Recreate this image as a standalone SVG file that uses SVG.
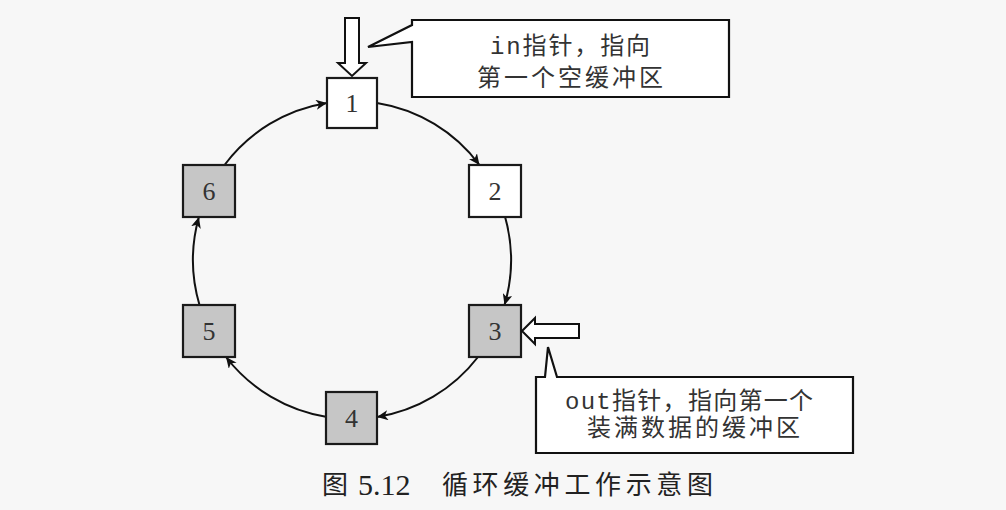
<svg xmlns="http://www.w3.org/2000/svg" width="1006" height="510" viewBox="0 0 1006 510">
<defs>
<style>
.nd{stroke:#1a1a1a;stroke-width:2.2}
.w{fill:#ffffff}
.g{fill:#c6c6c6}
.num{font-family:"Liberation Serif","DejaVu Serif",serif;font-size:26px;fill:#333;text-anchor:middle}
.arc{fill:none;stroke:#111;stroke-width:2}
.co{fill:#ffffff;stroke:#111;stroke-width:2.2}
.ptr{fill:#ffffff;stroke:#111;stroke-width:2}
.lbl{font-family:"Liberation Mono","Noto Sans CJK SC",monospace;font-size:24px;fill:#333}
.cap{font-family:"Noto Sans CJK SC",sans-serif;font-size:26px;fill:#222}
.capn{font-family:"Liberation Serif",serif;font-size:30px;fill:#222}
</style>
<marker id="ah" markerUnits="userSpaceOnUse" markerWidth="12" markerHeight="10" refX="11" refY="5" orient="auto">
<path d="M0,0 L11,5 L0,10 L3,5 Z" fill="#111"/>
</marker>
</defs>
<rect x="0" y="0" width="1006" height="510" fill="#f7f7f7"/>

<g id="connectors">
<path class="arc" marker-end="url(#ah)" d="M377 103 A159 159 0 0 1 479.5 165"/>
<path class="arc" marker-end="url(#ah)" d="M505.1 217 A159 159 0 0 1 504.5 305"/>
<path class="arc" marker-end="url(#ah)" d="M478 357 A159 159 0 0 1 377 417"/>
<path class="arc" marker-end="url(#ah)" d="M327 417 A159 159 0 0 1 226 357"/>
<path class="arc" marker-end="url(#ah)" d="M199.5 305 A159 159 0 0 1 198.9 217"/>
<path class="arc" marker-end="url(#ah)" d="M224.5 165 A159 159 0 0 1 327 103"/>
</g>

<g id="node1"><rect class="nd w" x="327" y="78" width="50" height="50"/><text class="num" x="352" y="112">1</text></g>
<g id="node2"><rect class="nd w" x="469" y="165" width="52" height="52"/><text class="num" x="495" y="200">2</text></g>
<g id="node3"><rect class="nd g" x="469" y="305" width="52" height="52"/><text class="num" x="495" y="340">3</text></g>
<g id="node4"><rect class="nd g" x="326" y="392" width="51" height="52"/><text class="num" x="351.5" y="427">4</text></g>
<g id="node5"><rect class="nd g" x="183" y="305" width="52" height="52"/><text class="num" x="209" y="340">5</text></g>
<g id="node6"><rect class="nd g" x="183" y="165" width="52" height="52"/><text class="num" x="209" y="200">6</text></g>

<g id="in-pointer">
<polygon class="ptr" points="345,18 359,18 359,63 366,63 352,76 338,63 345,63"/>
</g>
<g id="in-callout">
<path class="co" d="M412 20 H729 V97 H412 V42 L368 47 L412 25 Z"/>
<text class="lbl" x="490" y="54" textLength="160" lengthAdjust="spacing">in指针，指向</text>
<text class="lbl" x="477" y="86" textLength="186" lengthAdjust="spacing">第一个空缓冲区</text>
</g>

<g id="out-pointer">
<polygon class="ptr" points="522,331 535,318 535,324 579,324 579,338 535,338 535,344"/>
</g>
<g id="out-callout">
<path class="co" d="M536 377 H545 L548 347 L557 377 H853 V453 H536 Z"/>
<text class="lbl" x="565" y="409" textLength="248" lengthAdjust="spacing">out指针，指向第一个</text>
<text class="lbl" x="587" y="436" textLength="213" lengthAdjust="spacing">装满数据的缓冲区</text>
</g>

<g id="caption">
<text class="cap" x="322" y="494">图</text>
<text class="capn" x="358" y="495">5.12</text>
<text class="cap" x="442" y="494" textLength="271" lengthAdjust="spacing">循环缓冲工作示意图</text>
</g>
</svg>
